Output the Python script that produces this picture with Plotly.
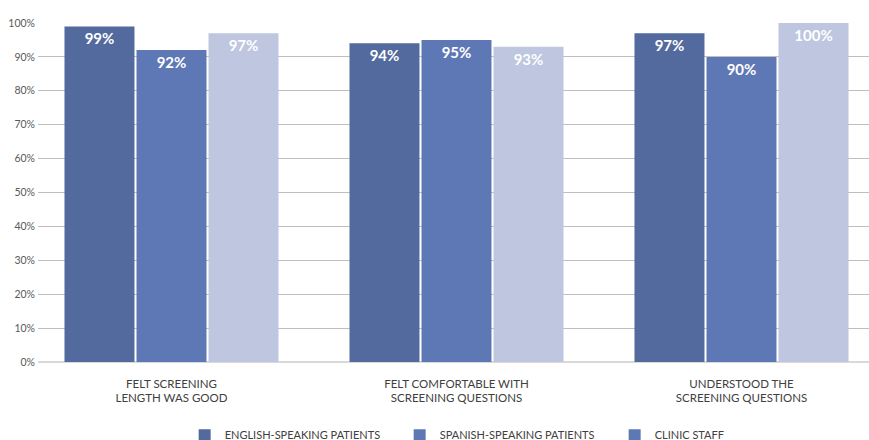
import plotly.graph_objects as go

# Survey results: share answering positively, by respondent group
categories = [
    "FELT SCREENING<br>LENGTH WAS GOOD",
    "FELT COMFORTABLE WITH<br>SCREENING QUESTIONS",
    "UNDERSTOOD THE<br>SCREENING QUESTIONS",
]
series_names = ["ENGLISH-SPEAKING PATIENTS", "SPANISH-SPEAKING PATIENTS", "CLINIC STAFF"]
english = [99, 94, 97]
spanish = [92, 95, 90]
staff = [97, 93, 100]
y_ticks = [0, 10, 20, 30, 40, 50, 60, 70, 80, 90, 100]
y_tick_labels = ["0%", "10%", "20%", "30%", "40%", "50%", "60%", "70%", "80%", "90%", "100%"]

bar_colors = ["#526A9E", "#5E78B5", "#BEC6E0"]
# the legend key for clinic staff uses the mid blue
legend_colors = ["#526A9E", "#5E78B5", "#5E78B5"]

W, H = 869, 440
fig = go.Figure()

for name, vals, col in zip(series_names, [english, spanish, staff], bar_colors):
    fig.add_trace(go.Bar(
        x=categories, y=vals, name=name, marker=dict(color=col, line=dict(width=0)),
        text=[f"{v}%" for v in vals], textposition="inside", insidetextanchor="end",
        textfont=dict(family="Lato", size=15, color="white", weight="bold"),
        textangle=0, showlegend=False, cliponaxis=False,
    ))

# legend keys
for name, col in zip(series_names, legend_colors):
    fig.add_trace(go.Scatter(
        x=[None], y=[None], mode="markers", name=name,
        marker=dict(symbol="square", size=12, color=col, line=dict(width=0)),
    ))

fig.update_layout(
    width=W, height=H,
    margin=dict(l=38, r=0, t=23, b=78, pad=0),
    paper_bgcolor="white", plot_bgcolor="white",
    barmode="group", bargap=0.242, bargroupgap=0.028,
    font=dict(family="Lato", color="#404040"),
    showlegend=True,
    legend=dict(
        orientation="h", xref="container", yref="container",
        x=0.2125, xanchor="left", y=0.011, yanchor="middle",
        entrywidth=170, entrywidthmode="pixels",
        font=dict(family="Lato", size=11, color="#404040"),
        itemsizing="trace", traceorder="normal",
        bgcolor="rgba(0,0,0,0)",
    ),
    xaxis=dict(
        type="category", range=[-0.4684, 2.4474],
        showgrid=False, zeroline=False, showline=False, ticks="",
        tickfont=dict(family="Lato", size=11.5, color="#404040"),
        ticklabelstandoff=13,
    ),
    yaxis=dict(
        range=[0, 100], tickmode="array", tickvals=y_ticks, ticktext=y_tick_labels,
        showgrid=True, gridcolor="#BFBFBF", gridwidth=1,
        zeroline=True, zerolinecolor="#D9D9D9", zerolinewidth=2,
        showline=False, ticks="",
        tickfont=dict(family="Lato", size=10.5, color="#595959"),
        ticklabelstandoff=2,
    ),
)

fig.write_html("out.html")
